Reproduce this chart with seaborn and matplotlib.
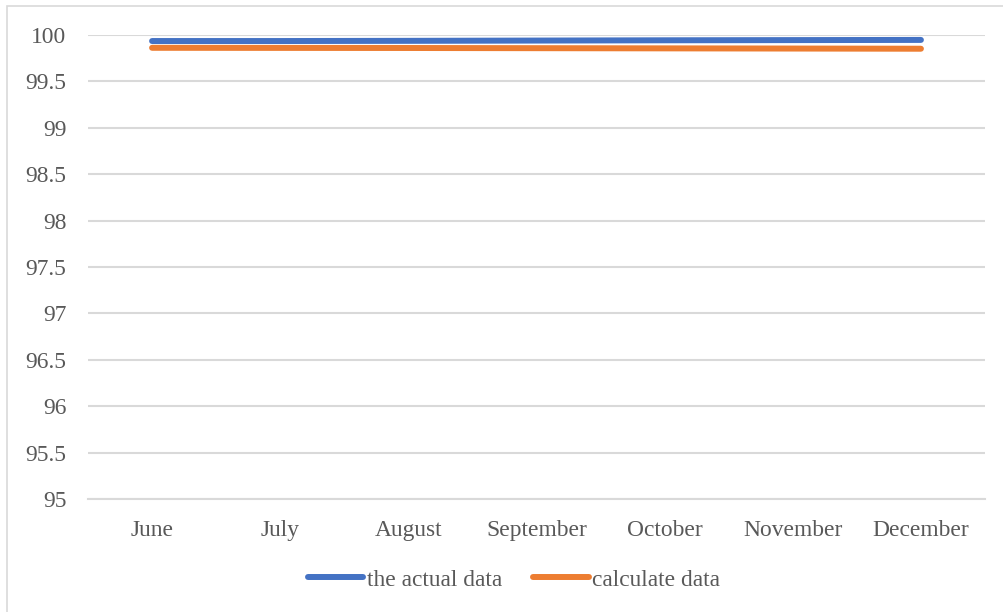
import matplotlib
matplotlib.use("Agg")
import matplotlib.pyplot as plt
import matplotlib.patches as mpatches
import seaborn as sns
import pandas as pd

months = ["June", "July", "August", "September", "October", "November", "December"]
actual_data = [99.935, 99.935, 99.937, 99.94, 99.943, 99.945, 99.947]
calculate_data = [99.862, 99.861, 99.86, 99.858, 99.856, 99.854, 99.852]
series_names = ["the actual data", "calculate data"]
y_ticks = [95, 95.5, 96, 96.5, 97, 97.5, 98, 98.5, 99, 99.5, 100]

df = pd.DataFrame({
    "month": months * 2,
    "value": actual_data + calculate_data,
    "series": [series_names[0]] * len(months) + [series_names[1]] * len(months),
})

sns.set_theme(style="white")
plt.rcParams["font.family"] = ["Liberation Serif", "DejaVu Serif"]
txt = "#595959"
grid = "#d9d9d9"
fs = 16.9

fig = plt.figure(figsize=(10.04, 6.12), dpi=100)
ax = fig.add_axes([88 / 1004, 1 - 499 / 612, (985 - 88) / 1004, (499 - 35) / 612])

sns.lineplot(data=df, x="month", y="value", hue="series", sort=False,
             palette=["#4472C4", "#ED7D31"], linewidth=4.3, ax=ax,
             solid_capstyle="round")

ax.set_xlim(-0.5, len(months) - 0.5)
ax.set_ylim(95, 100)
ax.set_yticks(y_ticks)
ax.set_yticklabels([f"{t:g}" for t in y_ticks])
ax.set_xlabel("")
ax.set_ylabel("")
ax.grid(axis="y", color=grid, linewidth=1.5)
ax.set_axisbelow(True)
for s in ["top", "right", "left"]:
    ax.spines[s].set_visible(False)
ax.spines["bottom"].set_color(grid)
ax.spines["bottom"].set_linewidth(1.5)
ax.tick_params(axis="y", length=0, pad=15.5, labelsize=fs, labelcolor=txt)
ax.tick_params(axis="x", length=0, pad=15, labelsize=fs, labelcolor=txt)

handles, labels = ax.get_legend_handles_labels()
ax.get_legend().remove()
for h in handles:
    h.set_solid_capstyle("round")
fig.legend(handles, labels, loc="center", bbox_to_anchor=(514 / 1004, 1 - 580 / 612),
           ncol=2, frameon=False, fontsize=fs, labelcolor=txt,
           handlelength=2.35, handletextpad=0.15, columnspacing=1.35, borderpad=0)

border = mpatches.Rectangle((7 / 1004, -0.5), 2, 1.5 - 6 / 612, transform=fig.transFigure,
                            fill=False, edgecolor=grid, linewidth=1.2)
fig.patches.append(border)

fig.savefig("out.png", dpi=100)
